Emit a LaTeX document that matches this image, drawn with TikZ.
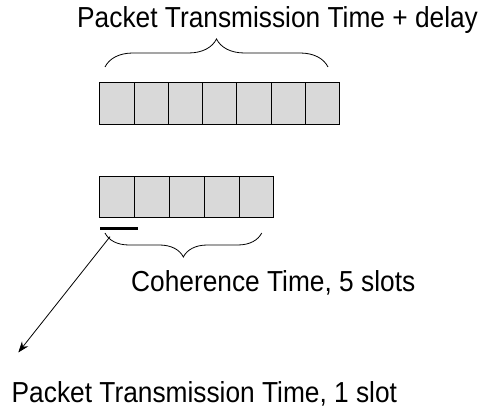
\documentclass[tikz,border=0pt]{standalone}
\usepackage{graphicx}
\usepackage{fontspec}
\setmainfont{Liberation Sans}
\usetikzlibrary{decorations.pathreplacing,arrows.meta}
\newcommand\talltext[1]{\scalebox{1}[1.1]{#1}}
\begin{document}
\begin{tikzpicture}[x=1pt,y=1pt,
  cell/.style={draw=black, fill=gray!30, line width=0.9pt, minimum height=41.7pt, inner sep=0pt, anchor=south west},
  lbl/.style={font=\fontsize{26.3}{30}\selectfont, inner sep=0pt, anchor=base west},
  bracestyle/.style={draw=black, line width=0.8pt, decorate},
]
\useasboundingbox (0,0) rectangle (480,414);
% top row: 7 slots
\foreach \i in {0,...,6} {
  \node[cell, minimum width=34.29pt] (t\i) at ({99.3+34.29*\i},288.9) {};
}
% bottom row: 5 slots
\foreach \i in {0,...,4} {
  \node[cell, minimum width=34.8pt] (b\i) at ({99.3+34.8*\i},195.7) {};
}
% braces
\coordinate (tb1) at (105,347);
\coordinate (tb2) at (328,347);
\draw[bracestyle, decoration={brace, amplitude=28pt}] (tb1) -- (tb2);
\coordinate (bb1) at (105,181);
\coordinate (bb2) at (261.7,181);
\draw[bracestyle, decoration={brace, mirror, amplitude=24pt}] (bb1) -- (bb2);
% black bar
\coordinate (bar1) at (100,185);
\coordinate (bar2) at (138.3,185);
\draw[line width=3pt] (bar1) -- (bar2);
% arrow
\coordinate (as) at (110,177.3);
\coordinate (ae) at (18.3,61.5);
\draw[line width=0.8pt, -{Stealth[length=11pt,width=8pt]}] (as) -- (ae);
% labels
\node[lbl] (l1) at (77,386.7) {\talltext{Packet Transmission Time + delay}};
\node[lbl] (l2) at (131,122.3) {\talltext{Coherence Time, 5 slots}};
\node[lbl] (l3) at (11.5,11.5) {\talltext{Packet Transmission Time, 1 slot}};
\end{tikzpicture}
\end{document}
